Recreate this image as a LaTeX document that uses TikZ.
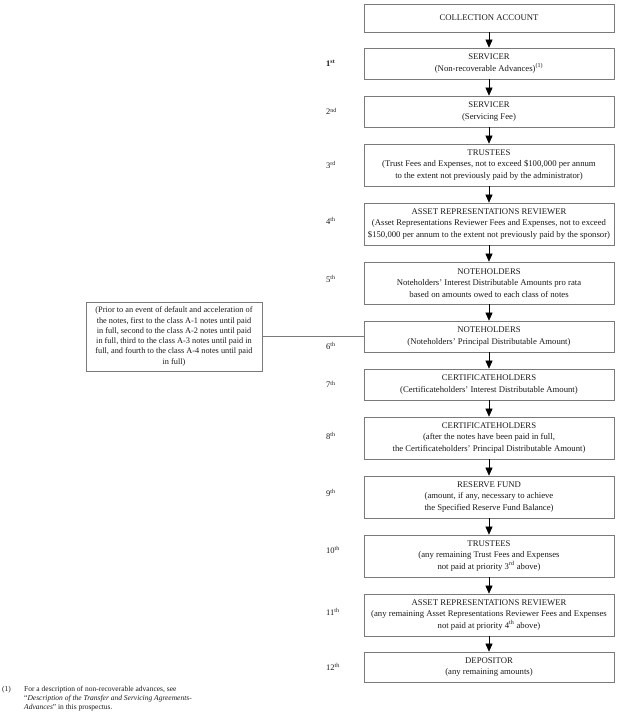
\documentclass[tikz,border=0pt]{standalone}
\usepackage{fontspec}
\setmainfont{Liberation Serif}
\usetikzlibrary{arrows.meta}
\definecolor{boxline}{HTML}{7A7A7A}
\definecolor{txt}{HTML}{1A1A1A}
\begin{document}
\begin{tikzpicture}[x=1pt,y=-1pt,
  stepbox/.style={draw=boxline,line width=0.7pt,minimum width=250pt,inner sep=0pt,align=center,text=txt,font=\fontsize{8.7}{11.2}\selectfont},
  notebox/.style={draw=boxline,line width=0.7pt,minimum width=176pt,minimum height=69pt,inner sep=0pt,align=center,text=txt,font=\fontsize{8.3}{10.3}\selectfont},
  ord/.style={anchor=west,inner sep=0pt,text=txt,font=\fontsize{8.5}{9}\selectfont},
  flow/.style={draw=black,line width=0.6pt,-{Triangle[width=7pt,length=8pt]}},
  link/.style={draw=boxline,line width=0.7pt}]
\useasboundingbox (0,0) rectangle (621,713);

\node[stepbox,minimum height=28pt] (b1) at (489,18) {COLLECTION ACCOUNT};
\node[stepbox,minimum height=31pt] (b2) at (489,63.5) {SERVICER\\(Non-recoverable Advances)\textsuperscript{(1)}};
\node[stepbox,minimum height=31pt] (b3) at (489,111.5) {SERVICER\\(Servicing Fee)};
\node[stepbox,minimum height=42pt] (b4) at (489,165) {TRUSTEES\\(Trust Fees and Expenses, not to exceed \$100,000 per annum\\to the extent not previously paid by the administrator)};
\node[stepbox,minimum height=42pt] (b5) at (489,224) {ASSET REPRESENTATIONS REVIEWER\\(Asset Representations Reviewer Fees and Expenses, not to exceed\\\$150,000 per annum to the extent not previously paid by the sponsor)};
\node[stepbox,minimum height=42pt] (b6) at (489,283) {NOTEHOLDERS\\Noteholders’ Interest Distributable Amounts pro rata\\based on amounts owed to each class of notes};
\node[stepbox,minimum height=31pt] (b7) at (489,336.5) {NOTEHOLDERS\\(Noteholders’ Principal Distributable Amount)};
\node[stepbox,minimum height=31pt] (b8) at (489,384.5) {CERTIFICATEHOLDERS\\(Certificateholders’ Interest Distributable Amount)};
\node[stepbox,minimum height=42pt] (b9) at (489,438) {CERTIFICATEHOLDERS\\(after the notes have been paid in full,\\the Certificateholders’ Principal Distributable Amount)};
\node[stepbox,minimum height=42pt] (b10) at (489,497) {RESERVE FUND\\(amount, if any, necessary to achieve\\the Specified Reserve Fund Balance)};
\node[stepbox,minimum height=42pt] (b11) at (489,556) {TRUSTEES\\(any remaining Trust Fees and Expenses\\not paid at priority 3\textsuperscript{rd} above)};
\node[stepbox,minimum height=42pt] (b12) at (489,615) {ASSET REPRESENTATIONS REVIEWER\\(any remaining Asset Representations Reviewer Fees and Expenses\\not paid at priority 4\textsuperscript{th} above)};
\node[stepbox,minimum height=30pt] (b13) at (489,667) {DEPOSITOR\\(any remaining amounts)};

\foreach \a/\b in {b1/b2,b2/b3,b3/b4,b4/b5,b5/b6,b6/b7,b7/b8,b8/b9,b9/b10,b10/b11,b11/b12,b12/b13}
  \draw[flow] (\a.south) -- (\b.north);

\node[ord,font=\fontsize{8.5}{9}\selectfont\bfseries] (o1) at (326,63.5) {1\textsuperscript{st}};
\node[ord] (o2) at (326,111.5) {2\textsuperscript{nd}};
\node[ord] (o3) at (326,165) {3\textsuperscript{rd}};
\node[ord] (o4) at (326,221) {4\textsuperscript{th}};
\node[ord] (o5) at (326,279) {5\textsuperscript{th}};
\node[ord] (o6) at (326,346) {6\textsuperscript{th}};
\node[ord] (o7) at (326,384.5) {7\textsuperscript{th}};
\node[ord] (o8) at (326,436) {8\textsuperscript{th}};
\node[ord] (o9) at (326,493) {9\textsuperscript{th}};
\node[ord] (o10) at (326,550) {10\textsuperscript{th}};
\node[ord] (o11) at (326,612) {11\textsuperscript{th}};
\node[ord] (o12) at (326,667) {12\textsuperscript{th}};

\node[notebox] (lb) at (174,336.5) {(Prior to an event of default and acceleration of\\the notes, first to the class A-1 notes until paid\\in full, second to the class A-2 notes until paid\\in full, third to the class A-3 notes until paid in\\full, and fourth to the class A-4 notes until paid\\in full)};
\draw[link] (lb.east) -- (b7.west);

\node[anchor=base west,inner sep=0pt,text=txt,font=\fontsize{7.5}{9}\selectfont] (fn) at (2,691) {(1)};
\node[anchor=base west,inner sep=0pt,align=left,text=txt,font=\fontsize{7.5}{9}\selectfont] (ft) at (24,709) {For a description of non-recoverable advances, see\\“\textit{Description of the Transfer and Servicing Agreements-}\\\textit{Advances}” in this prospectus.};
\end{tikzpicture}
\end{document}
